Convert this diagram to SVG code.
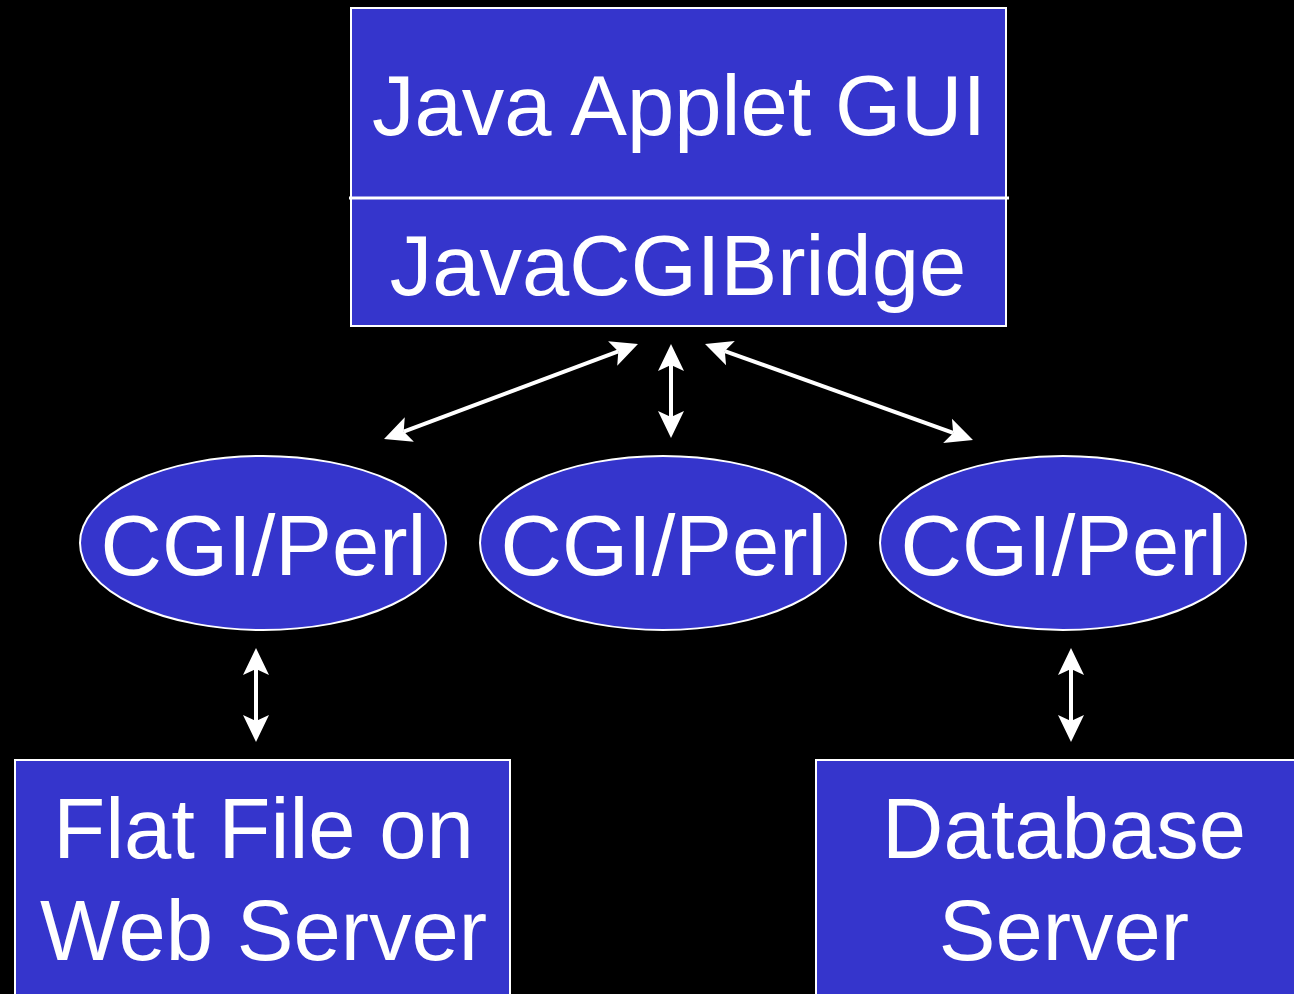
<svg xmlns="http://www.w3.org/2000/svg" width="1294" height="994" viewBox="0 0 1294 994">
<style>
.box{fill:#3535CC;stroke:#FFFFFF;stroke-width:2}
.lbl{font-family:"Liberation Sans",Arial,sans-serif;font-size:85px;fill:#FFFFFF;text-anchor:middle}
.conn{stroke:#FFFFFF;stroke-width:4;fill:none;marker-start:url(#ah);marker-end:url(#ah)}
</style>
<defs>
<marker id="ah" markerUnits="userSpaceOnUse" viewBox="-1 -14 30 28" markerWidth="30" markerHeight="28" refX="6" refY="0" orient="auto-start-reverse">
<path d="M0,-13 L27,0 L0,13 L6,0 Z" fill="#FFFFFF"/>
</marker>
</defs>
<rect x="0" y="0" width="1294" height="994" fill="#000000"/>
<g id="applet">
<rect class="box" x="351" y="8" width="655" height="318"/>
<line x1="349" y1="198" x2="1009" y2="198" stroke="#FFFFFF" stroke-width="3"/>
<text class="lbl" x="679" y="135">Java Applet GUI</text>
<text class="lbl" x="678" y="295">JavaCGIBridge</text>
</g>
<g id="cgi1">
<ellipse class="box" cx="263" cy="543" rx="183" ry="87"/>
<text class="lbl" x="263.5" y="575">CGI/Perl</text>
</g>
<g id="cgi2">
<ellipse class="box" cx="663" cy="543" rx="183" ry="87"/>
<text class="lbl" x="663.5" y="575">CGI/Perl</text>
</g>
<g id="cgi3">
<ellipse class="box" cx="1063" cy="543" rx="183" ry="87"/>
<text class="lbl" x="1063.5" y="575">CGI/Perl</text>
</g>
<g id="flatfile">
<rect class="box" x="15" y="760" width="495" height="250"/>
<text class="lbl" x="263.5" y="858">Flat File on</text>
<text class="lbl" x="263.5" y="960">Web Server</text>
</g>
<g id="database">
<rect class="box" x="816" y="760" width="500" height="250"/>
<text class="lbl" x="1064" y="858">Database</text>
<text class="lbl" x="1064" y="960">Server</text>
</g>
<g id="connectors">
<line class="conn" x1="618.3" y1="351.4" x2="403.7" y2="431.6"/>
<line class="conn" x1="671" y1="365" x2="671" y2="417"/>
<line class="conn" x1="724.8" y1="351.1" x2="953.2" y2="432.9"/>
<line class="conn" x1="256" y1="669" x2="256" y2="721"/>
<line class="conn" x1="1071" y1="669" x2="1071" y2="721"/>
</g>
</svg>
